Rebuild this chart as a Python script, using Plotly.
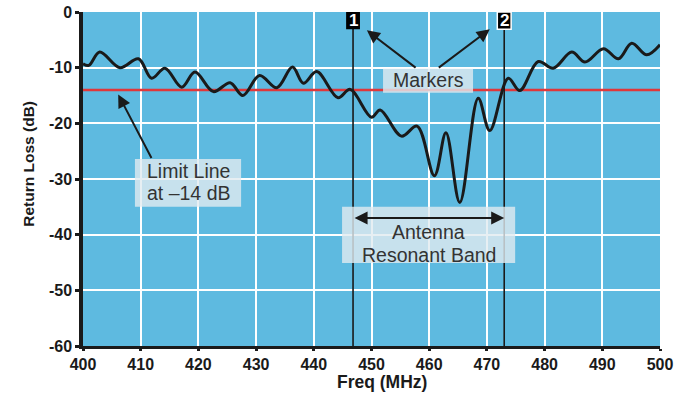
import plotly.graph_objects as go

# ---- data ----
freq_mhz = [400, 401.0, 402.9, 406.4, 409.6, 411.9, 414.2, 417.1, 419.4, 422.6,
            425.5, 427.7, 430.6, 433.6, 436.3, 438.2, 440.5, 444.2, 446.3, 450.0,
            451.5, 455.2, 457.9, 460.9, 462.9, 465.3, 468.5, 470.5, 473.7, 475.7,
            478.9, 481.5, 484.7, 487.0, 490.2, 492.8, 495.1, 497.7, 500]
return_loss_db = [-9.3, -9.6, -7.2, -10.0, -8.4, -11.9, -10.1, -13.5, -10.8, -14.3,
                  -12.7, -15.0, -11.4, -13.6, -9.9, -12.8, -10.7, -15.4, -13.9, -18.9,
                  -17.6, -22.3, -20.5, -29.4, -21.7, -34.2, -15.5, -21.3, -11.9, -14.1,
                  -8.9, -10.1, -7.2, -9.0, -6.6, -8.4, -5.6, -7.7, -5.9]
limit_db = -14
marker_freqs = [446.8, 473.0]
marker_names = ["1", "2"]
x_ticks = [400, 410, 420, 430, 440, 450, 460, 470, 480, 490, 500]
y_ticks = [0, -10, -20, -30, -40, -50, -60]
y_ticktext = ["0", "-10", "-20", "-30", "-40", "-50", "-60"]

FONT = "Liberation Sans, Arial, sans-serif"
BOX = "rgba(225,235,240,0.8)"
DARK = "#1a1a1a"

fig = go.Figure()

# limit line
fig.add_trace(go.Scatter(x=[x_ticks[0], x_ticks[-1]], y=[limit_db, limit_db], mode="lines",
                         line=dict(color="#e0373a", width=2.5), hoverinfo="skip"))
# marker lines
for mf in marker_freqs:
    fig.add_trace(go.Scatter(x=[mf, mf], y=[-3, -60], mode="lines",
                             line=dict(color=DARK, width=1.6), hoverinfo="skip"))
# return loss curve
fig.add_trace(go.Scatter(x=freq_mhz, y=return_loss_db, mode="lines",
                         line=dict(color=DARK, width=3, shape="spline", smoothing=1.0)))

shapes = []
annotations = []

# translucent label boxes
for (x0, x1, y0, y1) in [(452.0, 467.6, -10.2, -14.5),
                         (409.0, 427.4, -26.4, -35.0),
                         (444.9, 474.9, -35.0, -45.1)]:
    shapes.append(dict(type="rect", xref="x", yref="y", x0=x0, x1=x1, y0=y0, y1=y1,
                       fillcolor=BOX, line=dict(width=0), layer="above"))

# marker label boxes
for i, (mf, name) in enumerate(zip(marker_freqs, marker_names)):
    shapes.append(dict(type="rect", xref="x", yref="y", x0=mf - 1.2, x1=mf + 1.2, y0=0, y1=-3.1,
                       fillcolor="black",
                       line=dict(width=1.5 if i == 1 else 0, color="white"), layer="above"))
    annotations.append(dict(x=mf, y=-1.55, xref="x", yref="y", text="<b>%s</b>" % name,
                            showarrow=False, font=dict(family=FONT, size=17, color="white")))

txt = dict(family=FONT, size=19.5, color="#333333")
annotations += [
    dict(x=459.8, y=-12.3, xref="x", yref="y", text="Markers", showarrow=False, font=txt),
    dict(x=418.2, y=-28.5, xref="x", yref="y", text="Limit Line", showarrow=False, font=txt),
    dict(x=418.2, y=-32.6, xref="x", yref="y", text="at \u201314 dB", showarrow=False, font=txt),
    dict(x=459.9, y=-39.5, xref="x", yref="y", text="Antenna", showarrow=False, font=txt),
    dict(x=459.9, y=-43.6, xref="x", yref="y", text="Resonant Band", showarrow=False, font=txt),
]

arrow = dict(xref="x", yref="y", axref="x", ayref="y", text="", showarrow=True,
             arrowhead=2, arrowsize=1.3, arrowwidth=2, arrowcolor=DARK)
annotations += [
    dict(arrow, x=449.2, y=-3.3, ax=457.9, ay=-10.2),
    dict(arrow, x=470.5, y=-3.1, ax=461.4, ay=-10.2),
    dict(arrow, x=406.1, y=-14.8, ax=412.0, ay=-26.5),
    dict(arrow, x=marker_freqs[1], y=-37.0, ax=marker_freqs[0], ay=-37.0, arrowside="end+start"),
]

# axis titles
annotations += [
    dict(xref="paper", yref="paper", x=-0.094, y=0.545, xanchor="center", yanchor="middle",
         text="<b>Return Loss (dB)</b>", textangle=-90, showarrow=False,
         font=dict(family=FONT, size=15.5, color=DARK)),
    dict(xref="paper", yref="paper", x=0.518, y=-0.108, xanchor="center", yanchor="middle",
         text="<b>Freq (MHz)</b>", showarrow=False, font=dict(family=FONT, size=17.5, color=DARK)),
]

fig.update_layout(
    width=685, height=393,
    margin=dict(l=83, r=25, t=12, b=47, autoexpand=False),
    paper_bgcolor="white", plot_bgcolor="#5EBAE0",
    showlegend=False,
    shapes=shapes, annotations=annotations,
    font=dict(family=FONT, color=DARK),
)
axis_common = dict(showgrid=True, gridcolor="white", gridwidth=1.5, showline=True,
                   linecolor=DARK, ticks="outside", tickwidth=3,
                   tickcolor=DARK, zeroline=False, automargin=False,
                   tickfont=dict(family=FONT, size=16, color=DARK, weight="bold"))
fig.update_xaxes(range=[400, 500], tickvals=x_ticks, linewidth=3, ticklen=2, **axis_common)
fig.update_yaxes(range=[-60, 0], tickvals=y_ticks, ticktext=y_ticktext, linewidth=3.5,
                 ticklen=4, **axis_common)

fig.write_html("out.html", config={"displayModeBar": False},
               post_script="document.body.style.margin='0px';")
